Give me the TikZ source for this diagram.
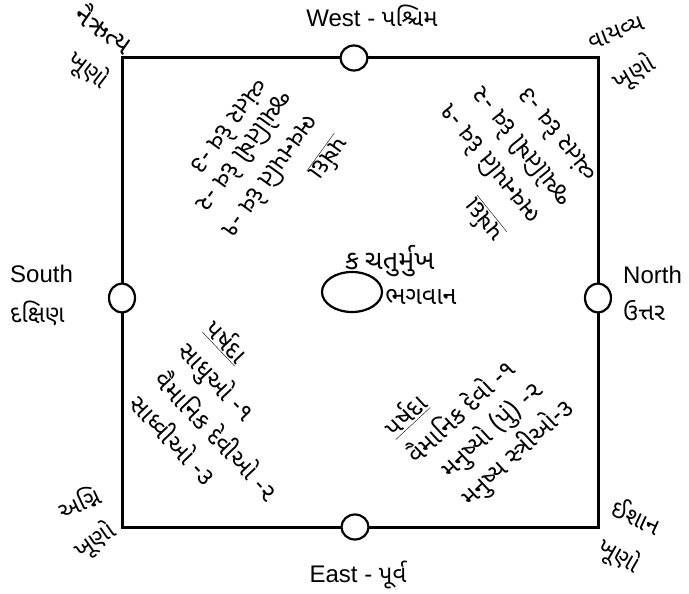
\documentclass[tikz,border=0pt]{standalone}
\usepackage{fontspec}
\setmainfont{Liberation Sans}
\newfontfamily\guj[Script=Gujarati]{Noto Sans Gujarati UI}
\usetikzlibrary{shapes.geometric}
\begin{document}
\begin{tikzpicture}[x=1pt,y=-1pt,
  gt/.style={font=\guj\fontsize{25}{30}\selectfont, inner sep=0pt},
  ct/.style={font=\guj\fontsize{24}{28}\selectfont, inner sep=0pt},
  et/.style={font=\fontsize{24}{28}\selectfont, inner sep=0pt},
  ring/.style={draw, line width=2.2pt, fill=white, ellipse, inner sep=0pt}]
\useasboundingbox (0,0) rectangle (689,594);
\coordinate (c1) at (122,58);
\coordinate (c2) at (598,58);
\coordinate (c3) at (598,527);
\coordinate (c4) at (122,527);
\draw[line width=3pt, line join=miter] (c1) -- (c2) -- (c3) -- (c4) -- cycle;
% direction rings
\node[ring, minimum width=27pt, minimum height=25pt] (wring) at (354,58) {};
\node[ring, minimum width=27pt, minimum height=25pt] (ering) at (355,527) {};
\node[ring, minimum width=26pt, minimum height=29pt] (sring) at (122,298) {};
\node[ring, minimum width=26pt, minimum height=29pt] (nring) at (598,298) {};
\node[ring, minimum width=60pt, minimum height=40pt] (centre) at (352,292) {};
% direction labels
\node[et, anchor=base] (west) at (372,27) {West - {\guj પશ્ચિમ}};
\node[et, anchor=base] (east) at (358,582) {East - {\guj પૂર્વ}};
\node[et, anchor=base west] (south) at (10,282) {South};
\node[ct, anchor=base west] (southg) at (10,322) {દક્ષિણ};
\node[et, anchor=base west] (north) at (623,283) {North};
\node[ct, anchor=base west] (northg) at (623,320) {ઉત્તર};
% corner labels
\node[ct, font=\guj\fontsize{27}{30}\selectfont, rotate=-35] (nair) at (105,28) {નૈઋત્ય};
\node[ct, rotate=-38] (nairk) at (88,70) {ખૂણો};
\node[ct, rotate=21] (vay) at (616,33) {વાયવ્ય};
\node[ct, rotate=30] (vayk) at (634,73) {ખૂણો};
\node[ct, rotate=25] (agn) at (79,502) {અગ્નિ};
\node[ct, rotate=35] (agnk) at (95,541) {ખૂણો};
\node[ct, rotate=-25] (ish) at (637,516) {ઈશાન};
\node[ct, rotate=-30] (ishk) at (619,556) {ખૂણો};
% centre text
\node[gt, font=\guj\fontsize{27}{30}\selectfont, anchor=base west] (chat) at (345,269) {ક\hspace{6pt}ચતુર્મુખ};
\node[gt, anchor=base] (bhag) at (421,304) {ભગવાન};
% assemblies: top left (nairutya)
\node[gt, rotate=-126] (tlh) at (330,159) {\underline{પર્ષદા}};
\node[gt, rotate=-126] (tl1) at (272,178) {ભવનપતિ દેવ -૧};
\node[gt, rotate=-126] (tl2) at (246,153) {જ્યોતિષી દેવ -૨};
\node[gt, rotate=-126] (tl3) at (231,128) {વ્યંતર દેવ -૩};
% top right (vayavya)
\node[gt, rotate=129] (trh) at (483,221) {\underline{પર્ષદા}};
\node[gt, rotate=129] (tr1) at (488,165) {ભવનપતિ દેવ -૧};
\node[gt, rotate=129] (tr2) at (520,148) {જ્યોતિષી દેવ -૨};
\node[gt, rotate=129] (tr3) at (556,136) {વ્યંતર દેવ -૩};
% bottom left (agni)
\node[gt, rotate=-46.6] (blh) at (227,341) {\underline{પર્ષદા}};
\node[gt, rotate=-46.6] (bl1) at (216,383) {સાધુઓ -૧};
\node[gt, rotate=-46.6] (bl2) at (218,435) {વૈમાનિક દેવીઓ -૨};
\node[gt, rotate=-46.6] (bl3) at (174,439) {સાધ્વીઓ -૩};
% bottom right (ishan)
\node[gt, rotate=43] (brh) at (405,415) {\underline{પર્ષદા}};
\node[gt, rotate=43] (br1) at (460,410) {વૈમાનિક દેવો -૧};
\node[gt, rotate=43] (br2) at (492,430) {મનુષ્યો (પું) -૨};
\node[gt, rotate=43] (br3) at (518,453) {મનુષ્ય સ્ત્રીઓ-૩};
\end{tikzpicture}
\end{document}
